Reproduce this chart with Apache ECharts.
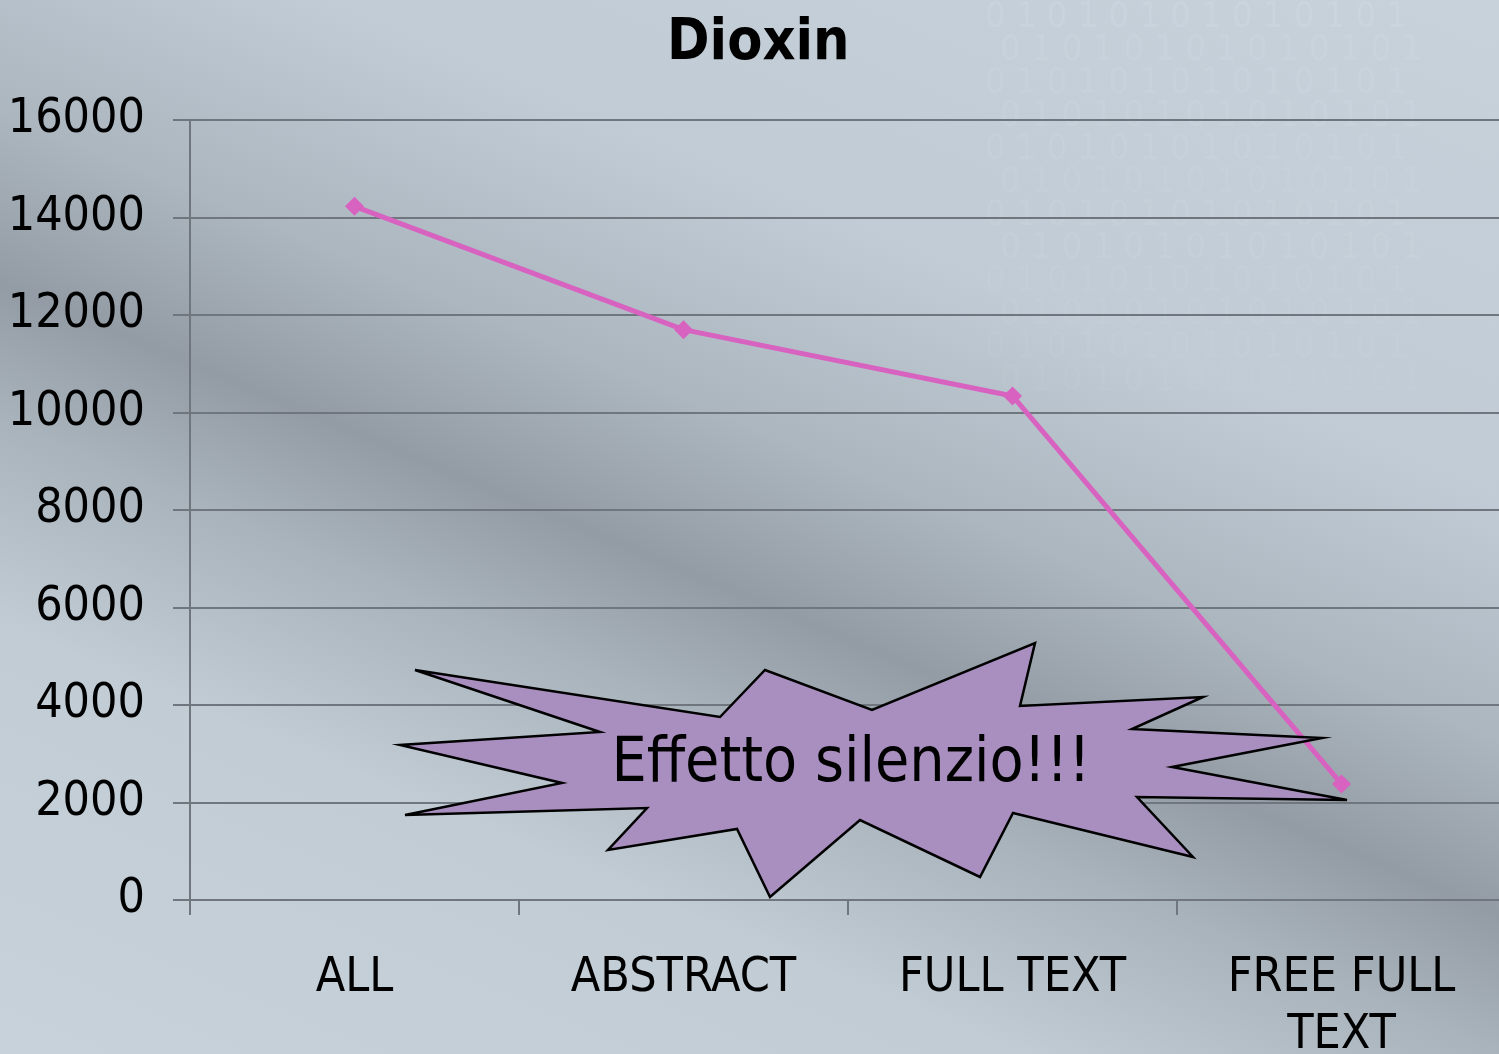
<!DOCTYPE html>
<html>
<head>
<meta charset="utf-8">
<title>Dioxin</title>
<script src="https://cdn.jsdelivr.net/npm/echarts@6/dist/echarts.min.js"></script>
<style>
  html, body { margin: 0; padding: 0; }
  #chart { width: 1499px; height: 1054px; }
</style>
</head>
<body>
<div id="chart"></div>
<script>
// --- data ---
const categories = ['ALL', 'ABSTRACT', 'FULL TEXT', 'FREE FULL\nTEXT']
const counts = [14230, 11700, 10340, 2380]
const yMin = 0
const yMax = 16000
const yStep = 2000

// callout shape (annotation, pixel outline)
const burst = [
  [415, 670], [600, 732], [400, 745], [562, 783], [405, 815], [647, 808],
  [608, 850], [737, 829], [770, 897], [860, 820], [980, 877], [1013, 813],
  [1193, 857], [1137, 797], [1347, 800], [1172, 767], [1322, 738], [1132, 729],
  [1203, 697], [1020, 706], [1035, 643], [872, 710], [765, 670], [720, 717],
]

const font = '"DejaVu Sans Condensed", "DejaVu Sans", sans-serif'
const chart = echarts.init(document.getElementById('chart'))

// faint binary rows in the upper right corner
const binary = []
for (let r = 0; r < 12; r++) {
  binary.push({
    type: 'text',
    z: -5,
    silent: true,
    x: r % 2 ? 1000 : 985,
    y: 0 + r * 33,
    style: {
      text: '0 1 0 1 0 1 0 1 0 1 0 1 0 1',
      fill: 'rgba(230,238,245,' + (0.13 - r * 0.007).toFixed(3) + ')',
      font: '36px ' + font,
    },
  })
}

chart.setOption({
  backgroundColor: '#c2cdd7',
  animation: false,
  title: {
    text: 'Dioxin',
    left: 667,
    top: 16,
    padding: 0,
    textStyle: { fontFamily: font, fontWeight: 'bold', fontSize: 57, color: '#000' },
  },
  grid: { left: 190, top: 120, width: 1316, height: 780, outerBoundsMode: 'none' },
  xAxis: {
    type: 'category',
    data: categories,
    boundaryGap: true,
    axisLine: { lineStyle: { color: '#6f767d', width: 2 } },
    axisTick: { show: true, length: 15, lineStyle: { color: '#6f767d', width: 2 } },
    axisLabel: {
      fontFamily: font,
      fontSize: 48,
      color: '#000',
      lineHeight: 57,
      margin: 50,
      interval: 0,
    },
    splitLine: { show: false },
  },
  yAxis: {
    type: 'value',
    min: yMin,
    max: yMax,
    interval: yStep,
    axisLine: { show: true, lineStyle: { color: '#6f767d', width: 2 } },
    axisTick: { show: true, length: 17, lineStyle: { color: '#6f767d', width: 2 } },
    axisLabel: {
      fontFamily: font,
      fontSize: 48,
      color: '#000',
      margin: 45,
      formatter: (v) => String(v),
    },
    splitLine: { lineStyle: { color: '#6f767d', width: 2 } },
  },
  series: [
    {
      type: 'line',
      data: counts,
      symbol: 'diamond',
      symbolSize: 19,
      lineStyle: { color: '#d862c0', width: 5 },
      itemStyle: { color: '#d862c0' },
      z: 3,
    },
  ],
  graphic: [
    {
      type: 'rect',
      z: -10,
      silent: true,
      shape: { x: 0, y: 0, width: 1499, height: 1054 },
      style: {
        fill: new echarts.graphic.LinearGradient(1034, -208, 421, 1249, [
          { offset: 0, color: '#c7d2db' },
          { offset: 0.3, color: '#c0cbd5' },
          { offset: 0.44, color: '#acb6bf' },
          { offset: 0.54, color: '#939ca4' },
          { offset: 0.62, color: '#a9b3bc' },
          { offset: 0.74, color: '#c1ccd5' },
          { offset: 1, color: '#c8d2db' },
        ], true),
      },
    },
    ...binary,
    {
      type: 'polygon',
      z: 10,
      shape: { points: burst },
      style: { fill: '#a98fbf', stroke: '#000', lineWidth: 2.5, lineJoin: 'miter' },
    },
    {
      type: 'text',
      z: 11,
      x: 851,
      y: 765,
      style: {
        text: 'Effetto silenzio!!!',
        font: '62px ' + font,
        fill: '#000',
        align: 'center',
        verticalAlign: 'middle',
      },
    },
  ],
})
</script>
</body>
</html>
